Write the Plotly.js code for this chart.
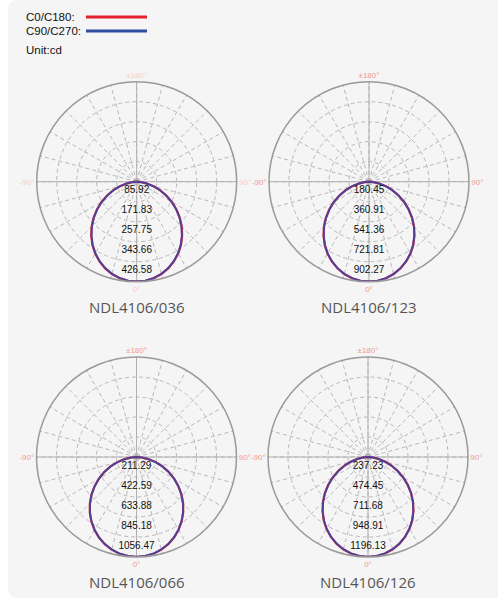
<!DOCTYPE html>
<html><head><meta charset="utf-8">
<script src="https://cdn.plot.ly/plotly-3.0.1.min.js"></script>
<style>html,body{margin:0;padding:0;background:#fff}</style>
</head><body><div id="chart" style="width:498px;height:601px"></div>
<script>
// gamma angles (deg) from nadir, one half-plane
const angles = [0,5,10,15,20,25,30,35,40,45,50,55,60,65,70,75,80,85,90];

const names = ["NDL4106/036","NDL4106/123","NDL4106/066","NDL4106/126"];

const ringLabels036 = ["85.92","171.83","257.75","343.66","426.58"];
const ringLabels123 = ["180.45","360.91","541.36","721.81","902.27"];
const ringLabels066 = ["211.29","422.59","633.88","845.18","1056.47"];
const ringLabels126 = ["237.23","474.45","711.68","948.91","1196.13"];

const ringValues036 = [85.92,171.83,257.75,343.66,429.58];
const ringValues123 = [180.45,360.91,541.36,721.81,902.27];
const ringValues066 = [211.29,422.59,633.88,845.18,1056.47];
const ringValues126 = [237.23,474.45,711.68,948.91,1186.13];

// intensities (cd)
const c0_036  = [429.6,427.5,421.1,410.7,396.1,378.0,356.6,331.7,303.7,273.7,241.9,208.4,174.4,140.1,106.5,74.3,44.2,18.0,0];
const c90_036 = [428.9,426.8,420.3,409.6,394.8,376.5,354.9,330.0,302.0,272.0,240.2,206.9,173.0,139.0,105.6,73.6,43.7,17.8,0];

const c0_123  = [902.3,897.8,884.3,862.6,831.9,794.0,748.9,696.6,637.9,574.8,508.0,437.6,366.3,294.1,223.8,156.1,92.9,37.9,0];
const c90_123 = [901.0,896.5,883.0,861.0,830.2,792.0,746.8,694.5,635.8,572.9,506.1,435.9,364.9,292.9,222.9,155.4,92.4,37.6,0];

const c0_066  = [1056.5,1051.6,1037.3,1013.5,980.5,938.8,889.0,831.6,767.2,697.1,621.6,542.2,459.9,375.8,291.6,208.7,129.2,56.5,0];
const c90_066 = [1055.0,1050.1,1035.6,1011.7,978.6,936.7,886.9,829.4,765.1,695.0,619.7,540.4,458.4,374.5,290.6,208.0,128.7,56.2,0];

const c0_126  = [1186.0,1180.1,1162.3,1133.8,1093.5,1043.7,984.4,915.6,838.5,755.5,667.7,575.2,481.5,386.6,294.1,205.2,122.2,49.8,0];
const c90_126 = [1184.5,1178.5,1160.6,1132.0,1091.6,1041.6,982.2,913.4,836.3,753.4,665.8,573.5,480.0,385.4,293.2,204.5,121.7,49.6,0];

const W = 498, H = 601;
const px = v => v / W, py = v => 1 - v / H;

const charts = [
  {name:names[0], labels:ringLabels036, rings:ringValues036, red:c0_036, blue:c90_036, dx:[px(36.7),px(236.7)], dy:[py(281.7),py(81.7)], lab:'#f6cdc6'},
  {name:names[1], labels:ringLabels123, rings:ringValues123, red:c0_123, blue:c90_123, dx:[px(269),px(469)], dy:[py(281.7),py(81.7)], lab:'#ef9a8e'},
  {name:names[2], labels:ringLabels066, rings:ringValues066, red:c0_066, blue:c90_066, dx:[px(36.5),px(236.5)], dy:[py(557),py(357)], lab:'#ef9a8e'},
  {name:names[3], labels:ringLabels126, rings:ringValues126, red:c0_126, blue:c90_126, dx:[px(268),px(468)], dy:[py(557),py(357)], lab:'#ef9a8e'}
];

const spokeVals = [];
for (let a = 0; a < 360; a += 15) spokeVals.push(a);
const spokeText = spokeVals.map(a => a===0?'0°':a===90?'90°':a===180?'±180°':a===270?'-90°':'');

const fullTheta = angles.slice().reverse().map(a => -a).concat(angles.slice(1));
function fullR(arr){ return arr.slice().reverse().concat(arr.slice(1)); }

// rounded background panel
const L = px(8), T = py(0), B = py(598), R = px(510), rx = px(10), ry = 10 / H;
const panelPath = `M ${L} ${T-ry} Q ${L} ${T} ${L+rx} ${T} L ${R} ${T} L ${R} ${B} L ${L+rx} ${B} Q ${L} ${B} ${L} ${B+ry} Z`;

const legFont = {family:'Liberation Sans, Arial', size:11.5, color:'#111'};
const data = [];
const layout = {
  width:W, height:H, margin:{l:0,r:0,t:0,b:0},
  paper_bgcolor:'#ffffff', showlegend:false,
  font:{family:'Liberation Sans, Arial, sans-serif'},
  shapes:[
    {type:'path', xref:'paper', yref:'paper', layer:'below', path:panelPath, fillcolor:'#f5f5f5', line:{width:0}},
    {type:'line', xref:'paper', yref:'paper', x0:px(86), x1:px(147), y0:py(17), y1:py(17), line:{color:'#e3212b', width:3}},
    {type:'line', xref:'paper', yref:'paper', x0:px(86), x1:px(147), y0:py(31), y1:py(31), line:{color:'#2f4f9e', width:3}}
  ],
  annotations:[
    {xref:'paper', yref:'paper', x:px(24), y:py(17), xanchor:'left', yanchor:'middle', showarrow:false, text:'C0/C180:', font:legFont},
    {xref:'paper', yref:'paper', x:px(24), y:py(31), xanchor:'left', yanchor:'middle', showarrow:false, text:'C90/C270:', font:legFont},
    {xref:'paper', yref:'paper', x:px(24), y:py(50), xanchor:'left', yanchor:'middle', showarrow:false, text:'Unit:cd', font:legFont}
  ]
};

charts.forEach((c, i) => {
  const sp = i===0 ? 'polar' : 'polar'+(i+1);
  const rmax = c.rings[4];
  // solid main axes
  data.push({type:'scatterpolar', subplot:sp, mode:'lines', r:[rmax,0,rmax], theta:[0,0,180], line:{color:'#b0b0b0', width:1}, hoverinfo:'skip'});
  data.push({type:'scatterpolar', subplot:sp, mode:'lines', r:[rmax,0,rmax], theta:[90,0,270], line:{color:'#b0b0b0', width:1}, hoverinfo:'skip'});
  // curves
  data.push({type:'scatterpolar', subplot:sp, mode:'lines', r:fullR(c.red), theta:fullTheta, line:{color:'#e3212b', width:2.2}, name:'C0/C180'});
  data.push({type:'scatterpolar', subplot:sp, mode:'lines', r:fullR(c.blue), theta:fullTheta, line:{color:'#3a45a8', width:2}, opacity:0.85, name:'C90/C270'});
  // ring value labels
  const step = c.rings[0];
  data.push({type:'scatterpolar', subplot:sp, mode:'text', r:c.rings.map(v => v - step*0.55), theta:c.rings.map(() => 0),
    text:c.labels, textposition:'middle center', textfont:{size:10, color:'#111', family:'Liberation Sans, Arial'}, hoverinfo:'skip'});

  layout[sp] = {
    domain:{x:c.dx, y:c.dy},
    bgcolor:'rgba(0,0,0,0)',
    radialaxis:{range:[0,rmax], tickvals:c.rings, showticklabels:false, ticks:'', showline:false,
      gridcolor:'#b8b8b8', griddash:'4px,3px', gridwidth:1},
    angularaxis:{rotation:-90, direction:'counterclockwise', tickmode:'array', tickvals:spokeVals, ticktext:spokeText,
      ticks:'', showline:true, linecolor:'#9a9a9a', linewidth:1.5, gridcolor:'#b8b8b8', griddash:'4px,3px', gridwidth:1,
      tickfont:{size:8, color:c.lab, family:'Liberation Sans, Arial'}}
  };
  const cx = (c.dx[0]+c.dx[1])/2;
  const ty = c.dy[0] - 25/H;
  layout.annotations.push({xref:'paper', yref:'paper', x:cx, y:ty, xanchor:'center', yanchor:'middle', showarrow:false,
    text:c.name, font:{family:'Open Sans, Liberation Sans', size:15, color:'#555555'}});
});

Plotly.newPlot('chart', data, layout, {displayModeBar:false, staticPlot:true});
</script>
</body></html>
